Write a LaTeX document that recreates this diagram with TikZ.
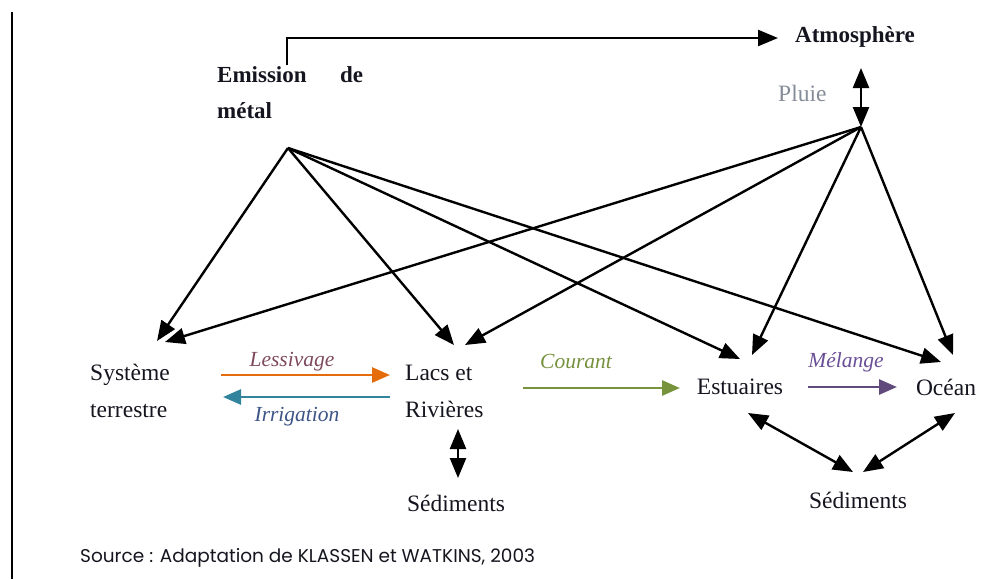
\documentclass[tikz,border=0pt]{standalone}
\usepackage{fontspec}
\setmainfont{Liberation Serif}
\newfontfamily\srcfont{Poppins}
\usetikzlibrary{arrows.meta}
\definecolor{txt}{HTML}{15151F}
\definecolor{cOrange}{HTML}{E46C0A}
\definecolor{cTeal}{HTML}{31849B}
\definecolor{cGreen}{HTML}{77933C}
\definecolor{cPurple}{HTML}{604A7B}
\definecolor{lLess}{HTML}{7E4A5E}
\definecolor{lIrr}{HTML}{3D5486}
\definecolor{lCour}{HTML}{76913E}
\definecolor{lMel}{HTML}{6A4E96}
\definecolor{lPluie}{HTML}{858C98}
\tikzset{
  lbl/.style={inner sep=0pt, text=txt, font=\fontsize{23.5}{37}\selectfont},
  blbl/.style={lbl, font=\fontsize{23}{36}\selectfont\bfseries},
  ilbl/.style={inner sep=0pt, font=\fontsize{21.5}{26}\selectfont\itshape},
  conn/.style={line width=2.4pt, -{Triangle[length=20pt,width=16pt]}},
  dconn/.style={line width=2.4pt, {Triangle[length=20pt,width=16pt]}-{Triangle[length=20pt,width=16pt]}},
  carr/.style={line width=2.8pt, -{Triangle[length=18pt,width=15pt]}},
}
\begin{document}
\begin{tikzpicture}[x=1pt,y=-1pt]
\useasboundingbox (0,0) rectangle (999,579);
\draw[line width=1.8pt] (12,12) -- (12,579);

% nodes
\node[blbl, anchor=west] (atm) at (795,37) {Atmosphère};
\node[lbl, text=lPluie, anchor=west] (pluie) at (778,93) {Pluie};
\node[blbl, anchor=north west, align=left] (emi) at (217,66) {\makebox[146pt][s]{Emission de}\\métal};
\node[lbl, anchor=west, align=left] (sys) at (90,391) {Système\\terrestre};
\node[lbl, anchor=west, align=left] (lacs) at (405,391) {Lacs et\\Rivières};
\node[lbl] (est) at (740,387) {Estuaires};
\node[lbl] (oc) at (946,387) {Océan};
\node[lbl] (sed1) at (456,503) {Sédiments};
\node[lbl] (sed2) at (858,500) {Sédiments};
\node[inner sep=0pt, anchor=west, text=txt, font=\srcfont\fontsize{18.5}{22}\selectfont] (src) at (80,558) {Source : Adaptation de KLASSEN et WATKINS, 2003};

% hubs and ends
\coordinate (E) at (288,148);
\coordinate (A) at (861,127);
\coordinate (eTop) at (287,65);
\coordinate (eCorner) at (287,38);
\coordinate (atmIn) at (778,38);
\coordinate (atmBot) at (861,68);
\coordinate (tSysE) at (157,341);
\coordinate (tSysA) at (165,342);
\coordinate (tLacE) at (454,345);
\coordinate (tLacA) at (465,345);
\coordinate (tEstE) at (740,359);
\coordinate (tEstA) at (752,355);
\coordinate (tOcE) at (941,362);
\coordinate (tOcA) at (953,355);

\draw[conn] (eTop) -- (eCorner) -- (atmIn);
\draw[dconn] (atmBot) -- (A);

\draw[conn] (E) -- (tSysE);
\draw[conn] (E) -- (tLacE);
\draw[conn] (E) -- (tEstE);
\draw[conn] (E) -- (tOcE);
\draw[conn] (A) -- (tSysA);
\draw[conn] (A) -- (tLacA);
\draw[conn] (A) -- (tEstA);
\draw[conn] (A) -- (tOcA);

% coloured flows
\coordinate (lesS) at (221,375); \coordinate (lesE) at (390,375);
\coordinate (irrS) at (390,397); \coordinate (irrE) at (223,397);
\coordinate (couS) at (523,388); \coordinate (couE) at (680,388);
\coordinate (melS) at (808,387); \coordinate (melE) at (897,387);
\draw[carr, cOrange] (lesS) -- (lesE);
\draw[carr, cTeal] (irrS) -- (irrE);
\draw[carr, cGreen] (couS) -- (couE);
\draw[carr, cPurple] (melS) -- (melE);
\node[ilbl, text=lLess] (lLes) at (292,362) {Lessivage};
\node[ilbl, text=lIrr] (lIrr) at (297,417) {Irrigation};
\node[ilbl, text=lCour] (lCou) at (576,362) {Courant};
\node[ilbl, text=lMel] (lMel) at (846,362) {Mélange};

% sediments
\coordinate (ls1) at (458,429); \coordinate (ls2) at (458,478);
\coordinate (es1) at (748,413); \coordinate (es2) at (853,472);
\coordinate (os1) at (955,413); \coordinate (os2) at (863,472);
\draw[dconn] (ls1) -- (ls2);
\draw[dconn] (es1) -- (es2);
\draw[dconn] (os1) -- (os2);
\end{tikzpicture}
\end{document}
